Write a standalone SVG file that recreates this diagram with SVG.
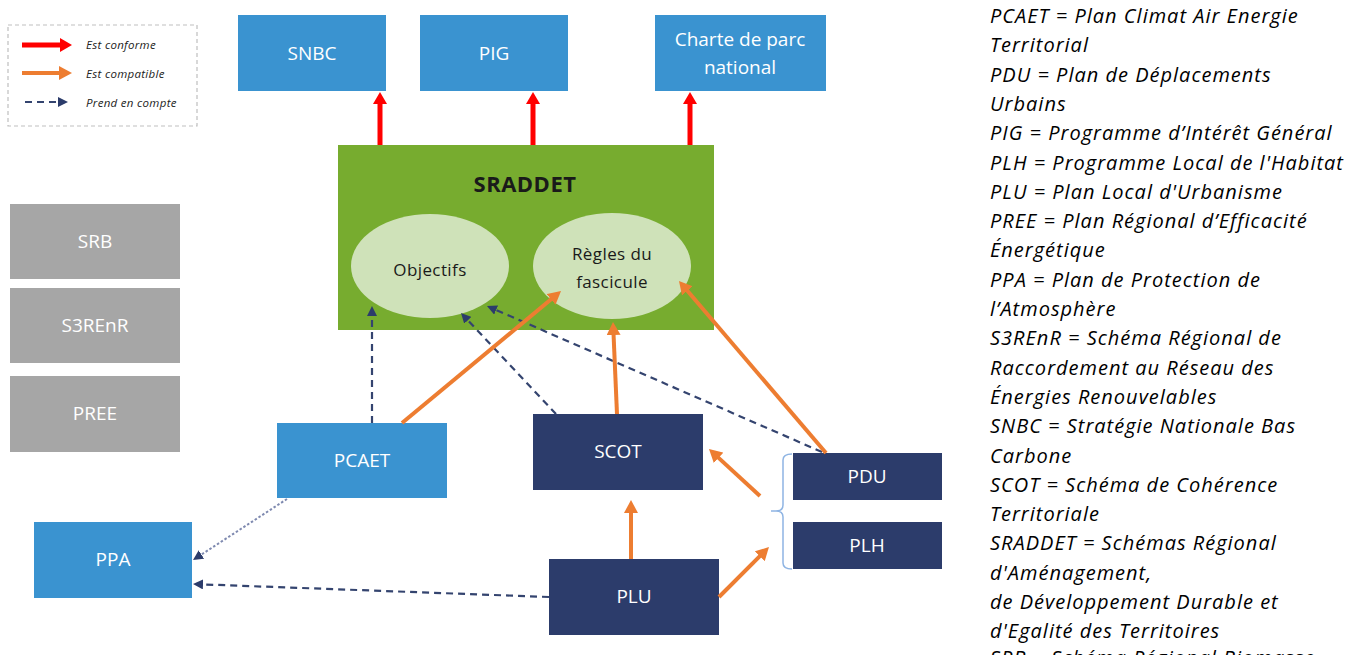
<svg xmlns="http://www.w3.org/2000/svg" width="1357" height="655" viewBox="0 0 1357 655">
<defs>
<style>
.lbl{font-family:"Open Sans","Liberation Sans",sans-serif;font-size:19px;fill:#ffffff;text-anchor:middle}
.dark{font-family:"Open Sans","Liberation Sans",sans-serif;font-size:17px;fill:#1a1a1a;text-anchor:middle;letter-spacing:0.4px}
.blue{fill:#3A93D0}
.navy{fill:#2C3C6B}
.grey{fill:#A6A6A6}
.red{stroke:#FF0000;stroke-width:5;fill:none}
.org{stroke:#ED7D31;stroke-width:4;fill:none}
.dsh{stroke:#34446F;stroke-width:2.2;stroke-dasharray:7 5;fill:none}
.dot{stroke:#7F8AB0;stroke-width:2;stroke-dasharray:2.5 2;fill:none}
.gloss{font-family:"Open Sans","Liberation Sans",sans-serif;font-style:italic;font-size:20px;letter-spacing:1px;fill:#000000}
.leg{font-family:"Open Sans","Liberation Sans",sans-serif;font-style:italic;font-size:11.5px;letter-spacing:0.3px;fill:#222222}
</style>
<marker id="mr" markerUnits="userSpaceOnUse" markerWidth="12" markerHeight="14" refX="4" refY="7" orient="auto"><path d="M0,0 L12,7 L0,14 z" fill="#FF0000"/></marker>
<marker id="mo" markerUnits="userSpaceOnUse" markerWidth="13" markerHeight="14" refX="4" refY="7" orient="auto"><path d="M0,0 L13,7 L0,14 z" fill="#ED7D31"/></marker>
<marker id="mn" markerUnits="userSpaceOnUse" markerWidth="10" markerHeight="10" refX="3" refY="5" orient="auto"><path d="M0,0 L10,5 L0,10 z" fill="#2C3C6B"/></marker>
</defs>
<rect width="1357" height="655" fill="#ffffff"/>

<g id="legend">
<rect x="8" y="25" width="189" height="101" fill="none" stroke="#BFBFBF" stroke-width="1.2" stroke-dasharray="4 3"/>
<line x1="22" y1="45" x2="64" y2="45" class="red" marker-end="url(#mr)"/>
<line x1="22" y1="73" x2="63" y2="73" class="org" marker-end="url(#mo)"/>
<line x1="25" y1="102" x2="61" y2="102" class="dsh" stroke-dasharray="5 4" marker-end="url(#mn)"/>
<text x="86" y="49" class="leg">Est conforme</text>
<text x="86" y="78" class="leg">Est compatible</text>
<text x="86" y="107" class="leg">Prend en compte</text>
</g>

<g id="snbc"><rect x="238" y="15" width="148" height="76" class="blue"/><text x="312" y="60" class="lbl">SNBC</text></g>
<g id="pig"><rect x="420" y="15" width="148" height="76" class="blue"/><text x="494" y="60" class="lbl">PIG</text></g>
<g id="charte"><rect x="655" y="15" width="171" height="76" class="blue"/><text x="740" y="46" class="lbl">Charte de parc</text><text x="740" y="74" class="lbl">national</text></g>

<g id="sraddet">
<rect x="338" y="145" width="376" height="185" fill="#77AC2F"/>
<text x="525" y="192" class="dark" style="font-weight:bold;font-size:22px;letter-spacing:0.5px">SRADDET</text>
</g>
<g id="objectifs"><ellipse cx="430" cy="266" rx="79" ry="52" fill="#CFE2B9"/><text x="430" y="276" class="dark">Objectifs</text></g>
<g id="regles"><ellipse cx="612" cy="266" rx="79" ry="53" fill="#CFE2B9"/><text x="612" y="260" class="dark">Règles du</text><text x="612" y="288" class="dark">fascicule</text></g>

<g id="srb"><rect x="10" y="204" width="170" height="75" class="grey"/><text x="95" y="248" class="lbl">SRB</text></g>
<g id="s3renr"><rect x="10" y="288" width="170" height="75" class="grey"/><text x="95" y="332" class="lbl">S3REnR</text></g>
<g id="pree"><rect x="10" y="376" width="170" height="76" class="grey"/><text x="95" y="420" class="lbl">PREE</text></g>

<g id="pcaet"><rect x="277" y="423" width="170" height="75" class="blue"/><text x="362" y="467" class="lbl">PCAET</text></g>
<g id="scot"><rect x="533" y="414" width="170" height="76" class="navy"/><text x="618" y="458" class="lbl">SCOT</text></g>
<g id="pdu"><rect x="793" y="453" width="149" height="47" class="navy"/><text x="867" y="483" class="lbl">PDU</text></g>
<g id="plh"><rect x="793" y="522" width="149" height="47" class="navy"/><text x="867" y="552" class="lbl">PLH</text></g>
<g id="plu"><rect x="549" y="559" width="170" height="76" class="navy"/><text x="634" y="603" class="lbl">PLU</text></g>
<g id="ppa"><rect x="34" y="522" width="158" height="76" class="blue"/><text x="113" y="566" class="lbl">PPA</text></g>
<g id="bracket"><path d="M792,454 Q783,454 783,460 L783,505 Q783,511 776,511 L771,511 M776,511 Q783,511 783,517 L783,563 Q783,569 792,569" fill="none" stroke="#8EB4E3" stroke-width="1.5"/></g>

<g id="connectors">
<line x1="380" y1="145" x2="380" y2="100" class="red" marker-end="url(#mr)"/>
<line x1="533" y1="145" x2="533" y2="100" class="red" marker-end="url(#mr)"/>
<line x1="690" y1="145" x2="690" y2="100" class="red" marker-end="url(#mr)"/>

<line x1="372" y1="423" x2="372" y2="313" class="dsh" marker-end="url(#mn)"/>
<line x1="556" y1="414" x2="465.8" y2="318.1" class="dsh" marker-end="url(#mn)"/>
<line x1="822" y1="452" x2="493.4" y2="308.8" class="dsh" marker-end="url(#mn)"/>
<line x1="549" y1="597" x2="200" y2="584.3" class="dsh" marker-end="url(#mn)"/>
<line x1="287" y1="499" x2="198.9" y2="556.2" class="dot" marker-end="url(#mn)"/>

<line x1="402" y1="423" x2="554.1" y2="296.8" class="org" marker-end="url(#mo)"/>
<line x1="617" y1="414" x2="613.4" y2="331" class="org" marker-end="url(#mo)"/>
<line x1="826" y1="453" x2="684.8" y2="287.8" class="org" marker-end="url(#mo)"/>
<line x1="760" y1="496" x2="715.6" y2="455.1" class="org" marker-end="url(#mo)"/>
<line x1="631" y1="559" x2="631" y2="509" class="org" marker-end="url(#mo)"/>
<line x1="719" y1="597" x2="762.6" y2="553.4" class="org" marker-end="url(#mo)"/>
</g>

<g id="glossary" class="gloss">
<text x="990" y="23">PCAET = Plan Climat Air Energie</text>
<text x="990" y="52.3">Territorial</text>
<text x="990" y="81.6">PDU = Plan de Déplacements</text>
<text x="990" y="110.9">Urbains</text>
<text x="990" y="140.2">PIG = Programme d’Intérêt Général</text>
<text x="990" y="169.5">PLH = Programme Local de l'Habitat</text>
<text x="990" y="198.8">PLU = Plan Local d'Urbanisme</text>
<text x="990" y="228.1">PREE = Plan Régional d’Efficacité</text>
<text x="990" y="257.4">Énergétique</text>
<text x="990" y="286.7">PPA = Plan de Protection de</text>
<text x="990" y="316">l’Atmosphère</text>
<text x="990" y="345.3">S3REnR = Schéma Régional de</text>
<text x="990" y="374.6">Raccordement au Réseau des</text>
<text x="990" y="403.9">Énergies Renouvelables</text>
<text x="990" y="433.2">SNBC = Stratégie Nationale Bas</text>
<text x="990" y="462.5">Carbone</text>
<text x="990" y="491.8">SCOT = Schéma de Cohérence</text>
<text x="990" y="521.1">Territoriale</text>
<text x="990" y="550.4">SRADDET = Schémas Régional</text>
<text x="990" y="579.7">d'Aménagement,</text>
<text x="990" y="609">de Développement Durable et</text>
<text x="990" y="638.3">d'Egalité des Territoires</text>
<text x="990" y="665">SRB = Schéma Régional Biomasse</text>
</g>
</svg>
